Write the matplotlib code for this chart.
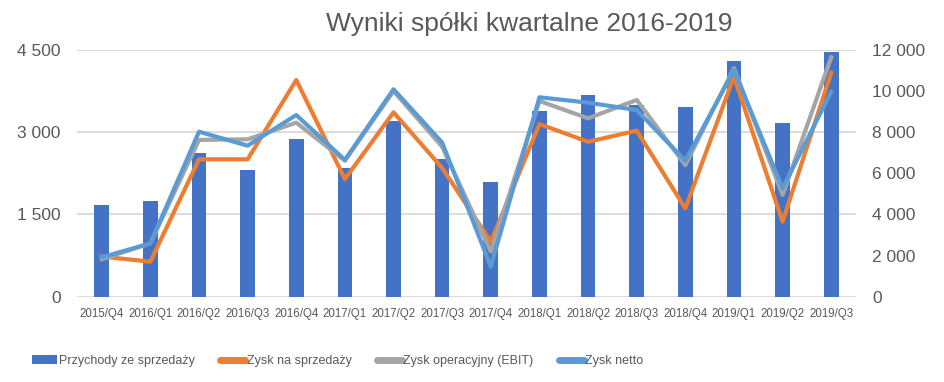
import numpy as np
import matplotlib
matplotlib.use("Agg")
import matplotlib.pyplot as plt

quarters = ["2015/Q4", "2016/Q1", "2016/Q2", "2016/Q3", "2016/Q4",
            "2017/Q1", "2017/Q2", "2017/Q3", "2017/Q4",
            "2018/Q1", "2018/Q2", "2018/Q3", "2018/Q4",
            "2019/Q1", "2019/Q2", "2019/Q3"]

przychody = [1670, 1740, 2615, 2305, 2870, 2345, 3200, 2505, 2090,
             3380, 3670, 3490, 3455, 4290, 3160, 4455]
zysk_sprzedaz = [1950, 1700, 6670, 6670, 10520, 5710, 8950, 6250, 2670,
                 8380, 7520, 8060, 4290, 10680, 3640, 10870]
zysk_ebit = [1820, 2590, 7610, 7640, 8450, 6600, 9980, 7280, 2190,
             9500, 8660, 9550, 6390, 11090, 4940, 11620]
zysk_netto = [1910, 2590, 8010, 7330, 8820, 6640, 10070, 7480, 1460,
              9680, 9420, 9060, 6600, 11000, 5260, 9950]

left_ticks = [0, 1500, 3000, 4500]
right_ticks = [0, 2000, 4000, 6000, 8000, 10000, 12000]


def fmt(v):
    return f"{v:,}".replace(",", " ")


plt.rcParams["font.family"] = ["Liberation Sans", "DejaVu Sans"]
text_col = "#595959"

fig = plt.figure(figsize=(9.44, 3.82), dpi=100)
ax = fig.add_axes([0.082, 0.2233, 0.8243, 0.6471])
ax2 = ax.twinx()

x = np.arange(len(quarters))
ax.bar(x, przychody, width=0.30, color="#4472C4", label="Przychody ze sprzedaży", zorder=2)
ax.set_ylim(0, 4500)
ax.set_xlim(-0.5, len(quarters) - 0.5)
ax.set_yticks(left_ticks)
ax.set_yticklabels([fmt(v) for v in left_ticks])
ax.set_xticks(x)
ax.set_xticklabels(quarters)
ax.grid(axis="y", color="#D9D9D9", linewidth=1.3, zorder=0)
ax.set_axisbelow(True)

ax2.plot(x, zysk_sprzedaz, color="#ED7D31", lw=3, label="Zysk na sprzedaży", solid_joinstyle="round")
ax2.plot(x, zysk_ebit, color="#A5A5A5", lw=3, label="Zysk operacyjny (EBIT)", solid_joinstyle="round")
ax2.plot(x, zysk_netto, color="#5B9BD5", lw=3, label="Zysk netto", solid_joinstyle="round")
ax2.set_ylim(0, 12000)
ax2.set_yticks(right_ticks)
ax2.set_yticklabels([fmt(v) for v in right_ticks])

for a in (ax, ax2):
    for s in a.spines.values():
        s.set_visible(False)
    a.tick_params(length=0, colors=text_col)

ax.tick_params(axis="y", labelsize=12.5, pad=12)
ax2.tick_params(axis="y", labelsize=12.5, pad=12)
ax.tick_params(axis="x", labelsize=8.3, pad=8)

fig.text(0.561, 0.937, "Wyniki spółki kwartalne 2016-2019", ha="center", va="center",
         fontsize=19, color=text_col)

handles = ax.get_legend_handles_labels()[0] + ax2.get_legend_handles_labels()[0]
labels = ax.get_legend_handles_labels()[1] + ax2.get_legend_handles_labels()[1]
leg = fig.legend(handles, labels, loc="center left", bbox_to_anchor=(0.022, 0.055),
                 ncol=4, frameon=False, fontsize=9, handlelength=2.0,
                 handletextpad=0.15, columnspacing=2.0, labelcolor=text_col)
for h in leg.legend_handles[1:]:
    h.set_solid_capstyle("round")
    h.set_linewidth(5)

fig.savefig("out.png", dpi=100)
